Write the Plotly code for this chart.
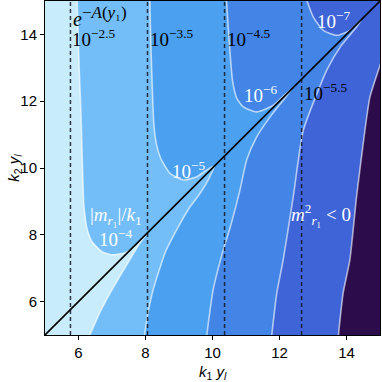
"""Contours of |m_r1|/k1 in the (k1 y_l, k2 y_l) plane."""
import plotly.graph_objects as go

X_RANGE = [5, 15]
Y_RANGE = [5, 15]

# contour 10^-4: upper branch (above diagonal) then lower branch
C4_UP_X = [5.96, 6.02, 6.08, 6.12, 6.16, 6.25, 6.40, 6.69, 6.99, 7.39, 7.75, 8.05]
C4_UP_Y = [15.0, 13.0, 11.5, 10.0, 8.9, 8.2, 7.8, 7.5, 7.4, 7.46, 7.68, 8.05]
C4_LO_X = [8.05, 7.80, 7.50, 7.20, 6.94, 6.65, 6.34]
C4_LO_Y = [8.05, 7.70, 7.20, 6.70, 6.25, 5.70, 5.0]

# contour 10^-5
C5_UP_X = [8.13, 8.16, 8.20, 8.25, 8.33, 8.45, 8.73, 9.13, 9.53, 9.83, 10.05]
C5_UP_Y = [15.0, 13.7, 12.5, 11.3, 10.7, 10.3, 9.84, 9.64, 9.74, 9.94, 10.05]
C5_LO_X = [10.05, 9.87, 9.60, 9.33, 8.93, 8.60, 8.23, 8.10, 7.97]
C5_LO_Y = [10.05, 9.64, 9.20, 8.84, 8.15, 7.50, 6.36, 5.80, 5.0]

# contour 10^-6
C6_UP_X = [10.42, 10.47, 10.52, 10.60, 10.72, 10.92, 11.32, 11.82, 12.10, 12.38]
C6_UP_Y = [15.0, 14.2, 13.5, 12.6, 12.1, 11.83, 11.68, 11.88, 12.14, 12.38]
C6_LO_X = [12.38, 12.05, 11.72, 11.32, 11.02, 10.82, 10.55, 10.28, 10.02, 9.83]
C6_LO_Y = [12.38, 11.95, 11.53, 10.93, 10.24, 9.34, 8.30, 7.40, 6.36, 5.0]

# contour 10^-7
C7_UP_X = [12.82, 13.01, 13.31, 13.71, 14.10, 14.45]
C7_UP_Y = [15.0, 14.52, 14.12, 13.97, 14.12, 14.45]
C7_LO_X = [14.45, 14.30, 13.81, 13.41, 13.16, 12.71, 12.41, 12.11, 11.92, 11.77]
C7_LO_Y = [14.45, 14.22, 13.62, 12.93, 12.33, 11.13, 9.14, 7.25, 6.26, 5.0]

# edge of the tachyonic region m^2 < 0
NEG_X = [15.2, 15.0, 14.70, 14.55, 14.30, 14.10, 13.90, 13.76]
NEG_Y = [13.7, 13.07, 12.13, 11.13, 9.14, 7.25, 6.26, 5.0]

# e^{-A(y1)} = 10^-2.5 ... 10^-5.5
WARP_X = [5.76, 8.06, 10.36, 12.66]
WARP_LABELS = ['10<sup>−2.5</sup>', '10<sup>−3.5</sup>',
               '10<sup>−4.5</sup>', '10<sup>−5.5</sup>']
WARP_LABEL_Y = [13.88, 13.88, 13.88, 12.27]

CONTOUR_LABELS = ['10<sup>−4</sup>', '10<sup>−5</sup>', '10<sup>−6</sup>', '10<sup>−7</sup>']
CONTOUR_LABEL_X = [7.09, 9.27, 11.42, 13.60]
CONTOUR_LABEL_Y = [7.91, 9.94, 12.21, 14.42]

COLORS = ['#c8ecfc', '#73bef8', '#4ba0f0', '#4285e6', '#3e64d8', '#2d0c4b']
LINE_WHITE = 'rgba(255,255,255,0.6)'
SERIF = 'Liberation Serif'
SANS = 'Liberation Sans'


def main():
    fig = go.Figure()

    contours = [
        (C4_UP_X + C4_LO_X[1:], C4_UP_Y + C4_LO_Y[1:]),
        (C5_UP_X + C5_LO_X[1:], C5_UP_Y + C5_LO_Y[1:]),
        (C6_UP_X + C6_LO_X[1:], C6_UP_Y + C6_LO_Y[1:]),
        (C7_UP_X + C7_LO_X[1:], C7_UP_Y + C7_LO_Y[1:]),
    ]

    # background: lightest level
    fig.add_trace(go.Scatter(
        x=[4.5, 15.5, 15.5, 4.5], y=[4.5, 4.5, 15.5, 15.5], fill='toself',
        fillcolor=COLORS[0], line=dict(width=0), mode='lines',
        hoverinfo='skip', showlegend=False))

    for i, (cx, cy) in enumerate(contours):
        # close the region to the right of the curve through the corners
        px = cx + [15.5, 15.5]
        py = cy + [4.5, 15.5]
        fig.add_trace(go.Scatter(
            x=px, y=py, fill='toself', fillcolor=COLORS[i + 1],
            line=dict(width=0), mode='lines', hoverinfo='skip',
            showlegend=False))

    fig.add_trace(go.Scatter(
        x=NEG_X + [15.5, 15.5], y=NEG_Y + [4.5, 13.7], fill='toself',
        fillcolor=COLORS[5], line=dict(width=0), mode='lines',
        hoverinfo='skip', showlegend=False))

    for cx, cy in contours + [(NEG_X, NEG_Y)]:
        fig.add_trace(go.Scatter(
            x=cx, y=cy, mode='lines',
            line=dict(color=LINE_WHITE, width=1.6, shape='spline', smoothing=0.6),
            hoverinfo='skip', showlegend=False))

    for wx in WARP_X:
        fig.add_trace(go.Scatter(
            x=[wx, wx], y=Y_RANGE, mode='lines',
            line=dict(color='rgba(20,20,30,0.85)', width=1.5, dash='4px,3px'),
            hoverinfo='skip', showlegend=False))

    fig.add_trace(go.Scatter(
        x=X_RANGE, y=Y_RANGE, mode='lines', line=dict(color='black', width=1.6),
        hoverinfo='skip', showlegend=False))

    ann = []
    ann.append(dict(x=5.79, y=14.55,
                    text='<i>e</i><sup><span style="font-size:17px">−<i>A</i>(<i>y</i>₁)</span></sup>',
                    xanchor='left', yanchor='middle', showarrow=False,
                    font=dict(family=SERIF, size=20, color='black')))
    for wx, lab, ly in zip(WARP_X, WARP_LABELS, WARP_LABEL_Y):
        ann.append(dict(x=wx, y=ly, text=lab, xanchor='left',
                        yanchor='middle', showarrow=False,
                        font=dict(family=SERIF, size=19, color='black')))
    for lab, lx, ly in zip(CONTOUR_LABELS, CONTOUR_LABEL_X, CONTOUR_LABEL_Y):
        ann.append(dict(x=lx, y=ly, text=lab, showarrow=False,
                        font=dict(family=SERIF, size=19, color='white')))
    ann.append(dict(x=7.12, y=8.57,
                    text='|<i>m</i><sub><i>r</i>₁</sub>|/<i>k</i><sub>1</sub>',
                    showarrow=False, font=dict(family=SERIF, size=19, color='white')))
    ann.append(dict(x=13.24, y=8.6,
                    text='<i>m</i><sup>2</sup><sub><i>r</i>₁</sub> &lt; 0',
                    showarrow=False, font=dict(family=SERIF, size=19, color='white')))
    # axis titles
    ann.append(dict(x=0.5, y=-0.112, xref='paper', yref='paper',
                    xanchor='center', yanchor='middle',
                    text='<i>k</i><sub>1</sub> <i>y</i><sub><i>l</i></sub>',
                    showarrow=False, font=dict(family=SANS, size=15, color='black')))
    ann.append(dict(x=-0.093, y=0.5, xref='paper', yref='paper', textangle=-90,
                    xanchor='center', yanchor='middle',
                    text='<i>k</i><sub>2</sub> <i>y</i><sub><i>l</i></sub>',
                    showarrow=False, font=dict(family=SANS, size=15, color='black')))

    axis = dict(showgrid=False, zeroline=False, showline=True, linecolor='black',
                linewidth=1, mirror=True, ticks='outside', ticklen=4,
                tickcolor='black', tickvals=[6, 8, 10, 12, 14],
                tickfont=dict(family=SANS, size=15, color='black'),
                layer='above traces')
    fig.update_layout(
        width=382, height=382,
        margin=dict(l=45, r=2, t=1, b=47, autoexpand=False),
        paper_bgcolor='white', plot_bgcolor='white',
        xaxis=dict(axis, range=X_RANGE),
        yaxis=dict(axis, range=Y_RANGE),
        annotations=ann,
    )
    # drop the default page margin so the figure sits at the window corner
    fig.write_html('out.html', config={'displayModeBar': False},
                   post_script="document.body.style.margin='0px';")


if __name__ == '__main__':
    main()
